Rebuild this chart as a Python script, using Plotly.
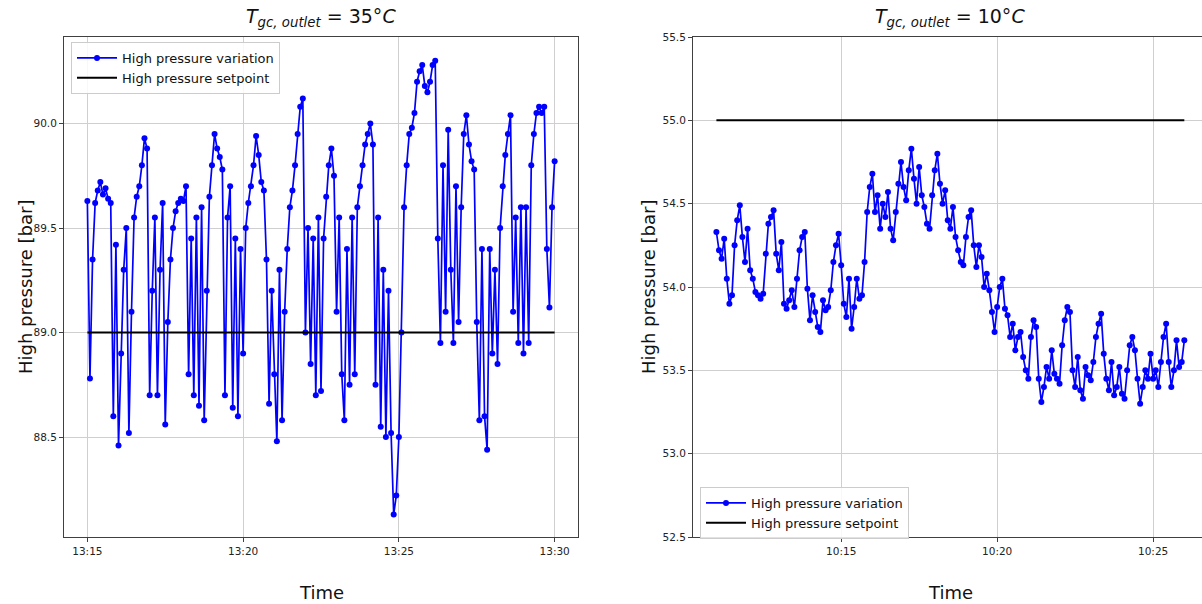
import pandas as pd
import plotly.graph_objects as go

# ---------------- data ----------------
left_start = "2023-01-01 13:15:00"
right_start = "2023-01-01 10:11:00"
sample_step = "5s"

left_pressure = [
    89.63, 88.78, 89.35, 89.62, 89.68, 89.72, 89.66, 89.69, 89.64, 89.62, 88.60, 89.42,
    88.46, 88.90, 89.30, 89.50, 88.52, 89.10, 89.55, 89.65, 89.70, 89.80, 89.93, 89.88,
    88.70, 89.20, 89.55, 88.70, 89.30, 89.62, 88.56, 89.05, 89.35, 89.50, 89.58, 89.62,
    89.64, 89.63, 89.70, 88.80, 89.45, 88.70, 89.55, 88.65, 89.60, 88.58, 89.20, 89.65,
    89.80, 89.95, 89.88, 89.84, 89.78, 88.70, 89.55, 89.70, 88.64, 89.45, 88.60, 89.40,
    88.90, 89.50, 89.62, 89.70, 89.80, 89.94, 89.85, 89.72, 89.68, 89.35, 88.66, 89.20,
    88.80, 88.48, 89.30, 88.58, 89.10, 89.40, 89.60, 89.68, 89.80, 89.95, 90.08, 90.12,
    89.00, 89.50, 88.85, 89.45, 88.70, 89.55, 88.72, 89.45, 89.65, 89.80, 89.88, 89.75,
    89.10, 89.55, 88.80, 88.58, 89.40, 88.75, 89.55, 88.80, 89.60, 89.70, 89.80, 89.90,
    89.95, 90.00, 89.90, 88.75, 89.55, 88.55, 89.30, 88.50, 89.20, 88.52, 88.13, 88.22,
    88.50, 89.00, 89.60, 89.80, 89.95, 89.98, 90.05, 90.20, 90.25, 90.28, 90.18, 90.15,
    90.20, 90.28, 90.30, 89.45, 88.95, 89.80, 89.10, 89.97, 89.30, 88.95, 89.70, 89.05,
    89.60, 89.95, 90.04, 89.90, 89.82, 89.78, 89.05, 88.58, 89.40, 88.60, 88.44, 89.40,
    88.90, 89.30, 88.85, 89.50, 89.70, 89.85, 89.95, 90.04, 89.10, 89.55, 88.95, 89.60,
    88.90, 89.60, 88.95, 89.80, 89.95, 90.05, 90.08, 90.05, 90.08, 89.40, 89.12, 89.60,
    89.82,
]

right_pressure = [
    54.33, 54.22, 54.17, 54.29, 54.05, 53.90, 53.95, 54.25, 54.40, 54.49, 54.30, 54.15,
    54.35, 54.10, 54.05, 53.97, 53.95, 53.93, 53.96, 54.20, 54.38, 54.42, 54.46, 54.20,
    54.10, 54.27, 53.90, 53.87, 53.92, 53.98, 53.88, 54.05, 54.22, 54.30, 54.33, 53.99,
    53.80, 53.95, 53.85, 53.76, 53.73, 53.92, 53.86, 53.88, 53.98, 54.15, 54.25, 54.32,
    54.13, 53.90, 53.82, 54.05, 53.75, 53.88, 54.05, 53.93, 53.95, 54.15, 54.45, 54.60,
    54.68, 54.45, 54.55, 54.35, 54.50, 54.42, 54.57, 54.35, 54.28, 54.45, 54.62, 54.75,
    54.60, 54.52, 54.70, 54.83, 54.65, 54.50, 54.72, 54.55, 54.48, 54.38, 54.35, 54.55,
    54.70, 54.80, 54.62, 54.50, 54.58, 54.40, 54.35, 54.48, 54.30, 54.22, 54.15, 54.13,
    54.30, 54.42, 54.46, 54.25, 54.12, 54.25, 54.18, 54.00, 54.08, 53.98, 53.85, 53.73,
    53.88, 54.00, 54.05, 53.87, 53.83, 53.70, 53.78, 53.62, 53.70, 53.73, 53.58, 53.50,
    53.45, 53.70, 53.80, 53.76, 53.45, 53.31, 53.40, 53.52, 53.45, 53.62, 53.48, 53.45,
    53.42, 53.65, 53.80, 53.88, 53.85, 53.50, 53.40, 53.58, 53.38, 53.33, 53.52, 53.47,
    53.44, 53.55, 53.70, 53.78, 53.84, 53.60, 53.45, 53.38, 53.55, 53.35, 53.40, 53.52,
    53.36, 53.33, 53.50, 53.65, 53.70, 53.62, 53.45, 53.30, 53.40, 53.50, 53.45, 53.60,
    53.45, 53.50, 53.40, 53.55, 53.70, 53.78, 53.55, 53.40, 53.50, 53.68, 53.52, 53.55,
    53.68,
]

left_setpoint_times = ["2023-01-01 13:15:00", "2023-01-01 13:30:00"]
left_setpoint = [89.0, 89.0]
right_setpoint_times = ["2023-01-01 10:11:00", "2023-01-01 10:26:00"]
right_setpoint = [55.0, 55.0]

left_yticks = [88.5, 89.0, 89.5, 90.0]
right_yticks = [52.5, 53.0, 53.5, 54.0, 54.5, 55.0, 55.5]

titles = ["<i>T</i><sub><i>gc, outlet</i></sub> = 35°<i>C</i>",
          "<i>T</i><sub><i>gc, outlet</i></sub> = 10°<i>C</i>"]
label_var = "High pressure variation"
label_set = "High pressure setpoint"
ylabel = "High pressure [bar]"
xlabel = "Time"

left_times = pd.date_range(left_start, periods=len(left_pressure), freq=sample_step)
right_times = pd.date_range(right_start, periods=len(right_pressure), freq=sample_step)

# ---------------- figure ----------------
FONT = "DejaVu Sans"
W, H = 1202, 604
ML, MR, MT, MB = 64, 0, 37, 67
PW = W - ML - MR
PH = H - MT - MB

def px_x(p):
    return (p - ML) / PW

def px_y(p):
    return (H - MB - p) / PH

fig = go.Figure()

blue = "#0000ff"
fig.add_trace(go.Scatter(x=left_times, y=left_pressure, mode="lines+markers",
                         line=dict(color=blue, width=1.7), marker=dict(color=blue, size=6),
                         name=label_var, xaxis="x", yaxis="y", legend="legend"))
fig.add_trace(go.Scatter(x=left_setpoint_times, y=left_setpoint, mode="lines",
                         line=dict(color="black", width=2), name=label_set,
                         xaxis="x", yaxis="y", legend="legend"))
fig.add_trace(go.Scatter(x=right_times, y=right_pressure, mode="lines+markers",
                         line=dict(color=blue, width=1.7), marker=dict(color=blue, size=6),
                         name=label_var, xaxis="x2", yaxis="y2", legend="legend2"))
fig.add_trace(go.Scatter(x=right_setpoint_times, y=right_setpoint, mode="lines",
                         line=dict(color="black", width=2), name=label_set,
                         xaxis="x2", yaxis="y2", legend="legend2"))

grid = "#cfcfcf"
spine = "#404040"
tickfont = dict(family=FONT, size=10.5, color="#222")

common_x = dict(type="date", tickformat="%H:%M", dtick=300000, showgrid=True,
                gridcolor=grid, gridwidth=1, showline=True, linecolor=spine,
                linewidth=1, ticks="outside", ticklen=4, tickcolor=spine,
                tickfont=tickfont, zeroline=False)
common_y = dict(showgrid=True, gridcolor=grid, gridwidth=1, showline=True,
                linecolor=spine, linewidth=1, ticks="outside", ticklen=4,
                tickcolor=spine, tickfont=tickfont, zeroline=False, tickformat=".1f")

left_dom = [0, px_x(578)]
right_dom = [px_x(693), 1.0]

fig.update_layout(
    width=W, height=H, margin=dict(l=ML, r=MR, t=MT, b=MB),
    paper_bgcolor="white", plot_bgcolor="white",
    font=dict(family=FONT, color="#111"),
    xaxis=dict(common_x, domain=left_dom, anchor="y", mirror=True,
               range=["2023-01-01 13:14:15", "2023-01-01 13:30:45"],
               tick0="2023-01-01 13:15:00"),
    yaxis=dict(common_y, domain=[0, 1], anchor="x", mirror=True,
               range=[88.022, 90.414], tickvals=left_yticks),
    xaxis2=dict(common_x, domain=right_dom, anchor="y2", mirror=True,
                range=["2023-01-01 10:10:15", "2023-01-01 10:26:34"],
                tick0="2023-01-01 10:15:00"),
    yaxis2=dict(common_y, domain=[0, 1], anchor="x2", mirror=False,
                range=[52.5, 55.5], tickvals=right_yticks),
    legend=dict(x=px_x(71), y=px_y(42), xanchor="left", yanchor="top",
                bgcolor="rgba(255,255,255,0.85)", bordercolor="#cccccc", borderwidth=1,
                font=dict(family=FONT, size=13, color="#111"), tracegroupgap=0,
                itemwidth=40),
    legend2=dict(x=px_x(700), y=px_y(487), xanchor="left", yanchor="top",
                 bgcolor="rgba(255,255,255,0.85)", bordercolor="#cccccc", borderwidth=1,
                 font=dict(family=FONT, size=13, color="#111"), tracegroupgap=0,
                 itemwidth=40),
    showlegend=True,
)

annos = []
for cx, t in zip([(64 + 578) / 2, (693 + 1207) / 2], titles):
    annos.append(dict(text=t, x=px_x(cx), y=px_y(18), xref="paper", yref="paper",
                      showarrow=False, xanchor="center", yanchor="middle",
                      font=dict(family=FONT, size=19, color="#111")))
    annos.append(dict(text=xlabel, x=px_x(cx), y=px_y(592), xref="paper", yref="paper",
                      showarrow=False, xanchor="center", yanchor="middle",
                      font=dict(family=FONT, size=18, color="#111")))
for cx in [25, 648]:
    annos.append(dict(text=ylabel, x=px_x(cx), y=px_y(287), xref="paper", yref="paper",
                      showarrow=False, xanchor="center", yanchor="middle", textangle=-90,
                      font=dict(family=FONT, size=18, color="#111")))
fig.update_layout(annotations=annos)

fig.write_html("out.html")
